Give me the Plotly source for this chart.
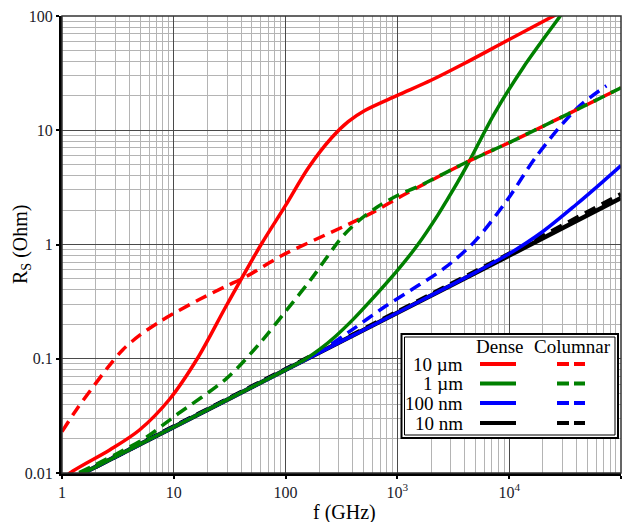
import plotly.graph_objects as go

# ---- data (frequency in GHz, surface resistance in Ohm) ----
f_red_dense = [1.0, 1.18, 2.67, 4.93, 9.12, 16.2, 30, 60, 100, 160, 258, 363, 511, 1010, 2000, 3960, 9600, 24900, 30000]
r_red_dense = [0.0085, 0.01, 0.0159, 0.0238, 0.044, 0.1, 0.3, 0.99, 2.2, 4.7, 8.6, 11.9, 14.9, 20.3, 27.4, 38.4, 61, 100, 110]

f_red_col = [1.0, 1.35, 2.18, 2.67, 3.5, 4.93, 7.43, 10.4, 16.9, 29.1, 43.8, 92.7, 183, 363, 627, 1010, 1515, 4236, 10000, 100000]
r_red_col = [0.023, 0.036, 0.068, 0.088, 0.12, 0.16, 0.21, 0.255, 0.33, 0.43, 0.52, 0.8, 1.1, 1.5, 1.95, 2.55, 3.15, 5.3, 7.8, 23.5]

f_green_dense = [1.0, 10, 100, 150, 200, 277, 400, 547, 1010, 1515, 2290, 2810, 3450, 4236, 7310, 13500, 28600, 33000]
r_green_dense = [0.008, 0.0253, 0.08, 0.099, 0.12, 0.156, 0.22, 0.305, 0.6, 0.99, 1.8, 2.5, 3.5, 5.0, 13.8, 36, 100, 122]

f_green_col = [1.0, 3, 5.66, 10, 30, 60, 100, 170, 317, 446, 671, 1010, 1515, 4236, 10000, 100000]
r_green_col = [0.0085, 0.0145, 0.0205, 0.031, 0.068, 0.14, 0.26, 0.5, 1.15, 1.6, 2.15, 2.7, 3.2, 5.3, 7.8, 23.5]

f_blue_dense = [1.0, 10, 100, 1000, 5000, 10000, 20000, 40000, 70000, 100000]
r_blue_dense = [0.008, 0.0253, 0.08, 0.253, 0.57, 0.83, 1.3, 2.25, 3.6, 4.9]

f_blue_col = [1.0, 10, 100, 200, 389, 769, 1327, 2627, 4853, 9600, 17700, 40200, 74000]
r_blue_col = [0.008, 0.0253, 0.08, 0.115, 0.178, 0.285, 0.4, 0.62, 1.05, 2.45, 6.0, 15.5, 24.5]

f_black_dense = [1.0, 10, 100, 1000, 10000, 100000]
r_black_dense = [0.008, 0.0253, 0.08, 0.253, 0.8, 2.55]

f_black_col = [1.0, 10, 100, 1000, 10000, 100000]
r_black_col = [0.008, 0.0255, 0.081, 0.258, 0.83, 2.75]

x_tickvals = [1, 10, 100, 1000, 10000, 100000]
x_ticktext = ["1", "10", "100", "10<sup>3</sup>", "10<sup>4</sup>", "10<sup>5</sup>"]
y_tickvals = [0.01, 0.1, 1, 10, 100]
y_ticktext = ["0.01", "0.1", "1", "10", "100"]

row_labels = ["10 µm", "1 µm", "100 nm", "10 nm"]
row_colors = ["#ff0000", "#008000", "#0000ff", "#000000"]

DASH = "12px,7px"
FONT = "Liberation Serif"

fig = go.Figure()

def add(x, y, color, width, dash=None):
    fig.add_trace(go.Scatter(
        x=x, y=y, mode="lines", showlegend=False,
        line=dict(color=color, width=width, dash=dash or "solid", shape="spline", smoothing=0.9),
        hoverinfo="skip"))

add(f_black_dense, r_black_dense, "#000000", 4.5)
add(f_black_col, r_black_col, "#000000", 4.5, DASH)
add(f_blue_dense, r_blue_dense, "#0000ff", 3.5)
add(f_blue_col, r_blue_col, "#0000ff", 3.5, DASH)
add(f_green_dense, r_green_dense, "#008000", 3.5)
add(f_red_dense, r_red_dense, "#ff0000", 3.5)
add(f_red_col, r_red_col, "#ff0000", 3.5, DASH)
add(f_green_col, r_green_col, "#008000", 3.5, DASH)

axis_common = dict(
    type="log", showline=True, linecolor="#000", linewidth=3,
    ticks="outside", ticklen=3, tickwidth=1.5, tickcolor="#000",
    showgrid=True, gridcolor="#4a4a4a", gridwidth=1,
    tickfont=dict(family=FONT, size=16, color="#1a1a2a"),
    minor=dict(dtick="D1", showgrid=True, gridcolor="#b4b4b4", gridwidth=1, ticks=""),
    zeroline=False,
)

fig.update_layout(
    width=624, height=522,
    margin=dict(l=62, r=3, t=16, b=49),
    paper_bgcolor="white", plot_bgcolor="white",
    xaxis=dict(range=[0, 5], tickmode="array", tickvals=x_tickvals, ticktext=x_ticktext, **axis_common),
    yaxis=dict(range=[-2, 2], tickmode="array", tickvals=y_tickvals, ticktext=y_ticktext, **axis_common),
)

# plot border
fig.add_shape(type="rect", xref="paper", yref="paper", x0=0, x1=1, y0=0, y1=1,
              line=dict(color="#333", width=1.5), layer="above")

# legend table
def px2x(px):
    return (px - 62) / 559.0

def py2y(py):
    return (473 - py) / 457.0

fig.add_shape(type="rect", xref="paper", yref="paper",
              x0=px2x(401.5), x1=px2x(618), y0=py2y(438), y1=py2y(334),
              line=dict(color="#000", width=2), fillcolor="white", layer="above")
fig.add_shape(type="rect", xref="paper", yref="paper",
              x0=px2x(404.5), x1=px2x(615), y0=py2y(435), y1=py2y(337),
              line=dict(color="#000", width=1), layer="above")

LF = 19
fig.add_annotation(xref="paper", yref="paper", x=px2x(499), y=py2y(346), text="Dense",
                   showarrow=False, font=dict(family=FONT, size=LF, color="#000"),
                   xanchor="center", yanchor="middle")
fig.add_annotation(xref="paper", yref="paper", x=px2x(572), y=py2y(346), text="Columnar",
                   showarrow=False, font=dict(family=FONT, size=LF, color="#000"),
                   xanchor="center", yanchor="middle")

row_y = [364, 383.5, 403, 423]
for lab, col, yy in zip(row_labels, row_colors, row_y):
    fig.add_annotation(xref="paper", yref="paper", x=px2x(465), y=py2y(yy), text=lab,
                       showarrow=False, font=dict(family=FONT, size=LF, color="#000"),
                       xanchor="right", yanchor="middle")
    fig.add_shape(type="line", xref="paper", yref="paper", x0=px2x(480), x1=px2x(516),
                  y0=py2y(yy), y1=py2y(yy), line=dict(color=col, width=4), layer="above")
    fig.add_shape(type="line", xref="paper", yref="paper", x0=px2x(557), x1=px2x(585),
                  y0=py2y(yy), y1=py2y(yy), line=dict(color=col, width=4, dash="12px,5px"),
                  layer="above")

# axis titles
fig.add_annotation(xref="paper", yref="paper", x=px2x(344), y=py2y(512), text="f (GHz)",
                   showarrow=False, font=dict(family=FONT, size=20, color="#000"),
                   xanchor="center", yanchor="middle")
fig.add_annotation(xref="paper", yref="paper", x=px2x(21), y=py2y(245), text="R<sub>S</sub> (Ohm)",
                   showarrow=False, textangle=-90, font=dict(family=FONT, size=20, color="#000"),
                   xanchor="center", yanchor="middle")

fig.write_html("out.html")
